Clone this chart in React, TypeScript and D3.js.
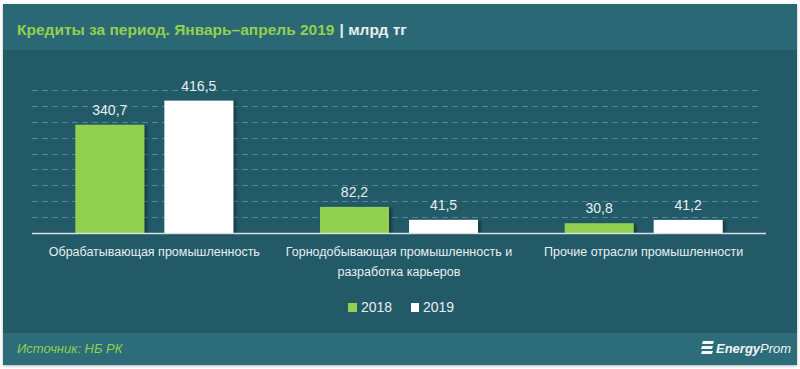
import { useMemo } from 'react';
import * as d3 from 'd3';

// Data (billion tenge)
const categories = [
  ['Обрабатывающая промышленность'],
  ['Горнодобывающая промышленность и', 'разработка карьеров'],
  ['Прочие отрасли промышленности'],
];
const years = ['2018', '2019'];
const values2018 = [340.7, 82.2, 30.8];
const values2019 = [416.5, 41.5, 41.2];
const yTicks = [50, 100, 150, 200, 250, 300, 350, 400, 450];

const W = 800;
const H = 369;
const GREEN = '#92d050';
const BODY = '#205a67';
const BAND = '#2b6875';
const FONT = '"Liberation Sans", Arial, sans-serif';

const fmt = (v: number) => v.toFixed(1).replace('.', ',');

export default function App() {
  const margin = { left: 32, right: 34, top: 90, bottom: 136 };
  const plotBottom = H - margin.bottom; // 233

  const x0 = useMemo(
    () => d3.scaleBand<number>().domain(d3.range(categories.length)).range([margin.left, W - margin.right]).padding(0),
    [],
  );
  const x1 = useMemo(
    () => d3.scaleBand<string>().domain(years).range([0, x0.bandwidth()]).paddingInner(0.225).paddingOuter(0.487),
    [x0],
  );
  const y = useMemo(() => d3.scaleLinear().domain([0, 450]).range([plotBottom, margin.top]), []);

  const series = [values2018, values2019];
  const colors = [GREEN, '#ffffff'];

  return (
    <div style={{ position: 'fixed', left: 0, top: 0 }}>
      <svg width={W} height={H} style={{ display: 'block', background: '#fff' }}>
        <defs>
          <filter id="barShadow" x="-20%" y="-20%" width="150%" height="140%">
            <feDropShadow dx="3" dy="1" stdDeviation="1.5" floodColor="#000" floodOpacity="0.35" />
          </filter>
          <filter id="cardShadow" x="-5%" y="-5%" width="110%" height="110%">
            <feDropShadow dx="0" dy="1" stdDeviation="1.5" floodColor="#000" floodOpacity="0.3" />
          </filter>
        </defs>

        {/* card */}
        <rect x={3} y={4} width={794} height={361} fill={BODY} filter="url(#cardShadow)" />
        <rect x={3} y={4} width={794} height={46} fill={BAND} />
        <rect x={3} y={333} width={794} height={32} fill="#2d6c79" />

        {/* title */}
        <text x={17} y={35} fontFamily={FONT} fontSize={15.5} fontWeight="bold">
          <tspan fill={GREEN}>Кредиты за период. Январь–апрель 2019</tspan>
          <tspan fill="#e6eef0" dx={5}>| млрд тг</tspan>
        </text>

        {/* grid */}
        {yTicks.map((t) => (
          <line
            key={t}
            x1={margin.left}
            x2={762}
            y1={Math.round(y(t)) + 0.5}
            y2={Math.round(y(t)) + 0.5}
            stroke="#4f8997"
            strokeWidth={1}
            strokeDasharray="6,4"
          />
        ))}

        {/* bars */}
        {categories.map((_, i) =>
          years.map((yr, j) => {
            const v = series[j][i];
            const bx = (x0(i) ?? 0) + (x1(yr) ?? 0);
            return (
              <g key={`${i}-${yr}`}>
                <rect
                  x={bx}
                  y={y(v)}
                  width={x1.bandwidth()}
                  height={plotBottom - y(v)}
                  fill={colors[j]}
                  filter="url(#barShadow)"
                />
                <text
                  x={bx + x1.bandwidth() / 2}
                  y={y(v) - 10}
                  textAnchor="middle"
                  fontFamily={FONT}
                  fontSize={14}
                  fill="#e8eff1"
                >
                  {fmt(v)}
                </text>
              </g>
            );
          }),
        )}

        {/* baseline */}
        <line x1={margin.left} x2={766} y1={plotBottom + 0.5} y2={plotBottom + 0.5} stroke="#d5e1e4" strokeWidth={1.5} />

        {/* category labels */}
        {categories.map((lines, i) => (
          <text
            key={i}
            x={(x0(i) ?? 0) + x0.bandwidth() / 2}
            y={256}
            textAnchor="middle"
            fontFamily={FONT}
            fontSize={12.5}
            fill="#e8eff1"
          >
            {lines.map((l, k) => (
              <tspan key={k} x={(x0(i) ?? 0) + x0.bandwidth() / 2} dy={k === 0 ? 0 : 20}>
                {l}
              </tspan>
            ))}
          </text>
        ))}

        {/* legend */}
        <rect x={348} y={303} width={9} height={9} fill={GREEN} />
        <text x={361} y={312} fontFamily={FONT} fontSize={14} fill="#e8eff1">
          {years[0]}
        </text>
        <rect x={411} y={303} width={8} height={9} fill="#ffffff" />
        <text x={423} y={312} fontFamily={FONT} fontSize={14} fill="#e8eff1">
          {years[1]}
        </text>

        {/* source */}
        <text x={17} y={353} fontFamily={FONT} fontSize={13} fontStyle="italic" fill={GREEN}>
          Источник: НБ РК
        </text>

        {/* logo */}
        <g transform="translate(701,341)" fill="#f2f6f7">
          <path d="M2,0 L13,0 L12,3 L1,3 Z" />
          <path d="M1,5 L12,5 L11,8 L0,8 Z" />
          <path d="M1,10 L12,10 L11,13 L0,13 Z" />
        </g>
        <text x={716} y={353} fontFamily={FONT} fontSize={13} fontStyle="italic" fill="#f2f6f7">
          <tspan fontWeight="bold">Energy</tspan>
          <tspan>Prom</tspan>
        </text>
      </svg>
    </div>
  );
}
